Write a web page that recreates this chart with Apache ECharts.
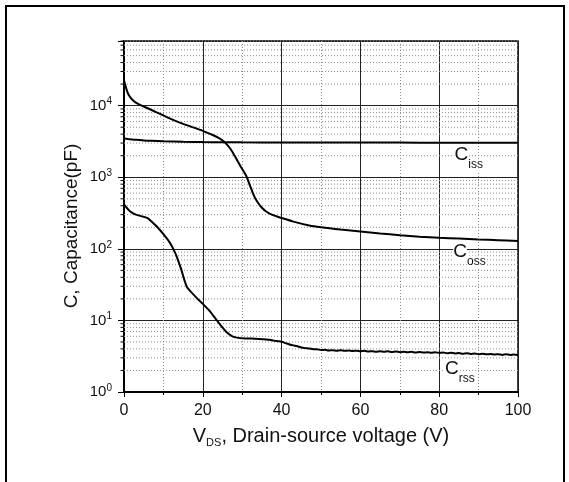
<!DOCTYPE html>
<html><head><meta charset="utf-8">
<script src="https://cdn.jsdelivr.net/npm/echarts@6/dist/echarts.min.js"></script>
<style>html,body{margin:0;padding:0;background:#fff}#c{width:569px;height:482px}</style>
</head><body><div id="c"></div>
<script>
// ---- data ----
const xTicks = [0, 20, 40, 60, 80, 100];
const yDecadeExponents = [0, 1, 2, 3, 4];
const minorMultipliers = [2, 3, 4, 5, 6, 7, 8, 9];

const cissVolts = [0, 1, 2, 3, 5, 7, 10, 15, 20, 25, 30, 40, 50, 60, 70, 80, 90, 100];
const cissValues = [3480, 3420, 3370, 3330, 3270, 3230, 3180, 3130, 3100, 3085, 3070, 3060, 3055, 3050, 3045, 3040, 3035, 3030];

const cossVolts = [0, 0.3, 0.7, 1, 1.5, 2, 3, 4.5, 6, 8, 10, 12, 14.5, 17, 20, 22, 24, 25.5, 27, 28.3, 29.5, 31, 32, 33, 34, 35, 36, 37.5, 40, 43, 47, 50, 55, 60, 65, 70, 75, 80, 85, 90, 95, 100];
const cossValues = [22600, 19500, 16500, 14800, 13300, 12300, 11000, 10000, 9200, 8200, 7300, 6500, 5700, 5100, 4450, 4000, 3550, 3100, 2500, 1900, 1450, 1050, 760, 550, 440, 375, 335, 300, 270, 240, 212, 200, 186, 175, 164, 155, 148, 143, 139, 135, 132, 129];

const crssVolts = [0, 0.5, 1.5, 3, 5, 6, 7, 8.5, 10, 11.5, 12.5, 13.5, 14.5, 15.3, 16, 17, 18.5, 20, 21.5, 23, 24.5, 26, 27.5,
  29, 30, 31, 32, 33, 34, 35, 36, 37, 38, 39, 40, 41, 42, 43, 44, 45, 46, 47, 48, 49, 50,
  51, 52, 53, 54, 55, 56, 57, 58, 59, 60, 61, 62, 63, 64, 65, 66, 67, 68, 69, 70,
  71, 72, 73, 74, 75, 76, 77, 78, 79, 80, 81, 82, 83, 84, 85, 86, 87, 88, 89, 90,
  91, 92, 93, 94, 95, 96, 97, 98, 99, 100];
const crssValues = [420, 385, 335, 300, 280, 268, 240, 200, 160, 125, 100, 75, 52, 37, 29, 25, 20.5, 17, 14, 11, 8.6, 6.9, 6.0,
  5.70, 5.62, 5.60, 5.58, 5.56, 5.52, 5.47, 5.42, 5.35, 5.22, 5.12, 5.02, 4.82, 4.62, 4.48, 4.36, 4.18, 4.10, 4.05, 3.96, 3.94, 3.86,
  3.88, 3.80, 3.84, 3.78, 3.82, 3.76, 3.80, 3.74, 3.78, 3.70, 3.76, 3.68, 3.72, 3.66, 3.72, 3.64, 3.70, 3.62, 3.68, 3.60,
  3.66, 3.58, 3.64, 3.56, 3.62, 3.55, 3.60, 3.53, 3.58, 3.52, 3.56, 3.48, 3.54, 3.46, 3.50, 3.42, 3.48, 3.40, 3.44, 3.38,
  3.42, 3.36, 3.40, 3.34, 3.38, 3.30, 3.36, 3.30, 3.34, 3.28];

const curveLabels = [
  { main: 'C', sub: 'iss', v: 85.6, c: 2040 },
  { main: 'C', sub: 'oss', v: 85.3, c: 91 },
  { main: 'C', sub: 'rss', v: 83.2, c: 2.14 }
];

// ---- build ----
const FONT = '"Liberation Sans", Arial, sans-serif';
const pairs = (xs, ys) => xs.map((x, i) => [x, ys[i]]);
const minorY = [];
yDecadeExponents.forEach(e => minorMultipliers.forEach(m => {
  const v = m * Math.pow(10, e);
  if (v <= 80000) minorY.push(v);
}));

const chart = echarts.init(document.getElementById('c'), null, { renderer: 'canvas' });

const curveStyle = { color: '#000', width: 2 };
chart.setOption({
  animation: false,
  backgroundColor: '#fff',
  grid: { left: 124, right: 51, top: 41, bottom: 90, show: true, borderColor: '#000', borderWidth: 1.5, backgroundColor: 'transparent' },
  xAxis: {
    type: 'value', min: 0, max: 100, interval: 20,
    axisLine: { show: true, lineStyle: { color: '#000', width: 2 } },
    axisTick: { show: true, length: 5, lineStyle: { color: '#000', width: 1 } },
    minorTick: { show: true, splitNumber: 2, length: 3, lineStyle: { color: '#000', width: 1 } },
    splitLine: { show: true, lineStyle: { color: '#222', width: 1 } },
    minorSplitLine: { show: true, lineStyle: { color: '#8c8c8c', width: 1, type: [1, 2] } },
    axisLabel: { color: '#111', fontFamily: FONT, fontSize: 16, margin: 11,
      formatter: v => xTicks.indexOf(v) >= 0 ? String(v) : '' },
    name: 'V{s|DS}, Drain-source voltage (V)',
    nameLocation: 'middle', nameGap: 33,
    nameTextStyle: { color: '#111', fontFamily: FONT, fontSize: 20,
      rich: { s: { fontFamily: FONT, fontSize: 11, color: '#111', padding: [12, 0, 0, 0] } } }
  },
  yAxis: {
    type: 'log', logBase: 10, min: 1, max: 80000,
    axisLine: { show: true, lineStyle: { color: '#000', width: 2 } },
    axisTick: { show: true, length: 6, lineStyle: { color: '#000', width: 1 } },
    splitLine: { show: true, lineStyle: { color: '#222', width: 1 } },
    axisLabel: {
      margin: 12, color: '#111', fontFamily: FONT,
      formatter: v => {
        const l = Math.log10(v), e = Math.round(l);
        if (Math.abs(l - e) > 1e-6 || yDecadeExponents.indexOf(e) < 0) return '';
        return '{b|10}{s|' + e + '}';
      },
      rich: {
        b: { fontFamily: FONT, fontSize: 15, lineHeight: 15, color: '#111' },
        s: { fontFamily: FONT, fontSize: 10, lineHeight: 10, color: '#111', padding: [0, 0, 8, 0] }
      }
    },
    name: '', nameLocation: 'middle'
  },
  series: [
    {
      type: 'custom', coordinateSystem: 'cartesian2d', clip: false, silent: true, z: 1,
      data: minorY.map(v => [0, v]),
      renderItem: (params, api) => {
        const y = api.value(1);
        const a = api.coord([0, y]);
        const b = api.coord([100, y]);
        return { type: 'group', children: [
          { type: 'line', shape: { x1: a[0], y1: a[1], x2: b[0], y2: b[1] }, style: { stroke: '#8c8c8c', lineWidth: 1, lineDash: [1, 2] } },
          { type: 'line', shape: { x1: a[0] - 3.5, y1: a[1], x2: a[0], y2: a[1] }, style: { stroke: '#000', lineWidth: 1 } }
        ] };
      }
    },
    { name: 'Ciss', type: 'line', data: pairs(cissVolts, cissValues), showSymbol: false, smooth: 0.3, lineStyle: curveStyle, z: 5 },
    { name: 'Coss', type: 'line', data: pairs(cossVolts, cossValues), showSymbol: false, smooth: 0.3, lineStyle: curveStyle, z: 5 },
    { name: 'Crss', type: 'line', data: pairs(crssVolts, crssValues), showSymbol: false, smooth: 0.2, lineStyle: { color: '#000', width: 2 }, z: 5 }
  ]
});

// Labels and frame positioned through the chart's own scales
const graphics = [
  { type: 'rect', shape: { x: 6, y: 6, width: 558, height: 490 }, style: { fill: 'none', stroke: '#000', lineWidth: 2 }, z: 100, silent: true },
  { type: 'text', x: 72, y: 226, rotation: Math.PI / 2, style: { text: 'C, Capacitance(pF)', font: '19px ' + FONT, fill: '#111', align: 'center', verticalAlign: 'middle' }, z: 100 }
];
curveLabels.forEach(L => {
  const p = chart.convertToPixel({ gridIndex: 0 }, [L.v, L.c]);
  graphics.push({ type: 'text', x: p[0], y: p[1], style: { text: L.main, font: '19px ' + FONT, fill: '#111', align: 'center', verticalAlign: 'middle', backgroundColor: '#fff' }, z: 50 });
  graphics.push({ type: 'text', x: p[0] + 7, y: p[1] + 10, style: { text: L.sub, font: '12px ' + FONT, fill: '#111', align: 'left', verticalAlign: 'middle', backgroundColor: '#fff' }, z: 50 });
});
chart.setOption({ graphic: graphics });
</script>
</body></html>
